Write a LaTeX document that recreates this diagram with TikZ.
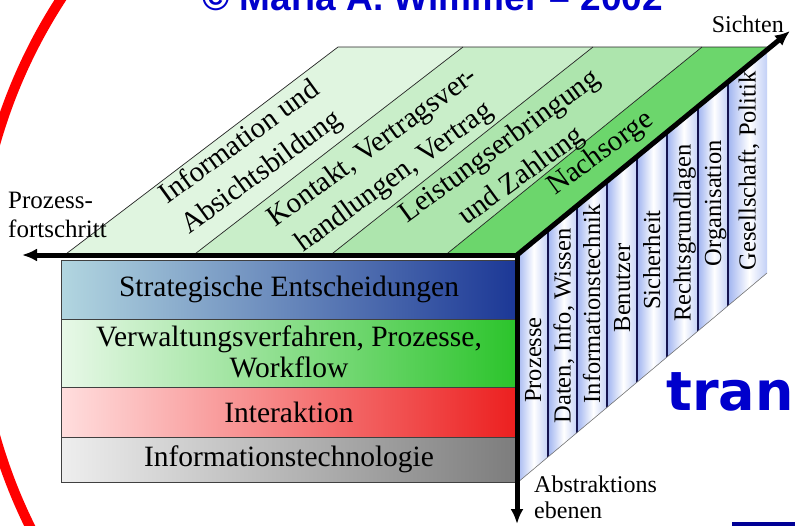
\documentclass[tikz,border=0pt]{standalone}
\usepackage{fontspec}
\setmainfont{Liberation Serif}
\newfontfamily\titlefont{Liberation Sans}
\newfontfamily\bigfont{DejaVu Sans}
\usetikzlibrary{arrows.meta}

\definecolor{titleblue}{RGB}{0,0,204}
\definecolor{barblue}{RGB}{0,0,150}
\definecolor{topA}{RGB}{224,245,224}
\definecolor{topB}{RGB}{201,238,201}
\definecolor{topC}{RGB}{173,229,173}
\definecolor{topD}{RGB}{108,214,108}
\definecolor{rAl}{RGB}{178,214,224}
\definecolor{rAr}{RGB}{28,56,150}
\definecolor{rBl}{RGB}{232,248,232}
\definecolor{rBr}{RGB}{44,196,44}
\definecolor{rCl}{RGB}{255,222,222}
\definecolor{rCr}{RGB}{236,32,32}
\definecolor{rDl}{RGB}{238,238,238}
\definecolor{rDr}{RGB}{125,125,125}
\definecolor{vblueL}{RGB}{160,180,240}
\definecolor{vblueR}{RGB}{195,208,246}
\definecolor{vline}{RGB}{20,20,80}

\pgfdeclarehorizontalshading{viewshade}{100bp}{color(0bp)=(vblueL); color(25bp)=(vblueL); color(52bp)=(white); color(75bp)=(vblueR); color(100bp)=(vblueR)}

\begin{document}
\begin{tikzpicture}[x=1pt,y=-1pt,
  axisline/.style={line width=5pt, black},
  rowbox/.style={draw=black!75, line width=0.8pt},
  rowtxt/.style={inner sep=0pt, align=center, font=\fontsize{29.5}{31}\selectfont},
  toptxt/.style={inner sep=0pt, align=center, rotate=36, font=\fontsize{29}{37}\selectfont},
  viewtxt/.style={inner sep=0pt, rotate=90, anchor=base, font=\fontsize{24.5}{28}\selectfont},
  lbl/.style={inner sep=0pt, align=left},
  sepline/.style={black!85, line width=0.7pt}
]
\useasboundingbox (0,0) rectangle (795,525);
\clip (0,0) rectangle (795,525);

% red arc
\draw[red, line width=10pt] (510,290) circle[radius=535];

% title (clipped at top)
\node[inner sep=0pt, anchor=base west, text=titleblue, font=\titlefont\bfseries\fontsize{37}{40}\selectfont] (title) at (202,10) {© Maria A. Wimmer – 2002};

% big clipped word
\node[inner sep=0pt, anchor=base west, text=titleblue, font=\bigfont\bfseries\fontsize{54}{60}\selectfont] (tran) at (666,410) {tran};
\fill[barblue] (732,522) rectangle (795,527);

% top face stripes
\fill[topA] (62,257) -- (338,47) -- (463,47) -- (191,257) -- cycle;
\fill[topB] (191,257) -- (463,47) -- (593,47) -- (328,257) -- cycle;
\fill[topC] (328,257) -- (593,47) -- (702,47) -- (443,257) -- cycle;
\fill[topD] (443,257) -- (702,47) -- (767,47) -- (517,257) -- cycle;
\draw[sepline] (62,257) -- (338,47) -- (767,47);
\draw[sepline] (191,257) -- (463,47);
\draw[sepline] (328,257) -- (593,47);
\draw[sepline] (443,257) -- (702,47);

% right face stripes
\begin{scope}
\clip (517,257) -- (767,47) -- (767,273) -- (517,483) -- cycle;
\foreach \a/\b in {517/548,548/577,577/607,607/637,637/667,667/698,698/728,728/767}{
  \shade[shading=viewshade] (\a,40) rectangle (\b,490);
}
\foreach \a in {548,577,607,637,667,698,728}{
  \draw[vline, line width=1.1pt] (\a,40) -- (\a,490);
}
\end{scope}
\draw[black!55, line width=0.6pt] (517,483) -- (767,273);

% front rows
\draw[rowbox, left color=rAl, right color=rAr] (61,260) rectangle (515,319);
\draw[rowbox, left color=rBl, right color=rBr] (61,319) rectangle (515,387);
\draw[rowbox, left color=rCl, right color=rCr] (61,387) rectangle (515,437);
\draw[rowbox, left color=rDl, right color=rDr] (61,437) rectangle (515,482);

\node[rowtxt] (r1) at (289,289) {Strategische Entscheidungen};
\node[rowtxt] (r2) at (289,352) {Verwaltungsverfahren, Prozesse,\\Workflow};
\node[rowtxt] (r3) at (289,412) {Interaktion};
\node[rowtxt] (r4) at (289,459) {Informationstechnologie};

% top face texts
\node[toptxt] (t1) at (251,158) {Information und\\Absichtsbildung};
\node[toptxt] (t2) at (384,163) {Kontakt, Vertragsver-\\handlungen, Vertrag};
\node[toptxt] (t3) at (511,162) {Leistungserbringung\\und Zahlung};
\node[toptxt] (t4) at (601,154) {Nachsorge};

% right face texts
\node[viewtxt] (v1) at (541,360) {Prozesse};
\node[viewtxt] (v2) at (570.5,326) {Daten, Info, Wissen};
\node[viewtxt] (v3) at (600,304) {Informationstechnik};
\node[viewtxt] (v4) at (630,288) {Benutzer};
\node[viewtxt] (v5) at (660,260) {Sicherheit};
\node[viewtxt] (v6) at (690.5,233) {Rechtsgrundlagen};
\node[viewtxt] (v7) at (721,203) {Organisation};
\node[viewtxt] (v8) at (755.5,171) {Gesellschaft, Politik};

% axes
\coordinate (O) at (517,255);
\coordinate (PF) at (22,255);
\coordinate (AE) at (517,524);
\coordinate (SI) at (790,31);
\draw[axisline, {Latex[length=15pt,width=13pt]}-{Latex[length=15pt,width=13pt]}] (PF) -- (O) -- (AE);
\draw[axisline, -{Latex[length=15pt,width=13pt]}] (O) -- (SI);

% axis labels
\node[lbl, anchor=north west, font=\fontsize{25}{29}\selectfont] (lpf) at (8,192) {Prozess-\\fortschritt};
\node[lbl, anchor=base east, font=\fontsize{24}{26}\selectfont] (lsi) at (784,32) {Sichten};
\node[lbl, anchor=north west, font=\fontsize{24}{26}\selectfont] (lae) at (534,476) {Abstraktions\\ebenen};
\end{tikzpicture}
\end{document}
